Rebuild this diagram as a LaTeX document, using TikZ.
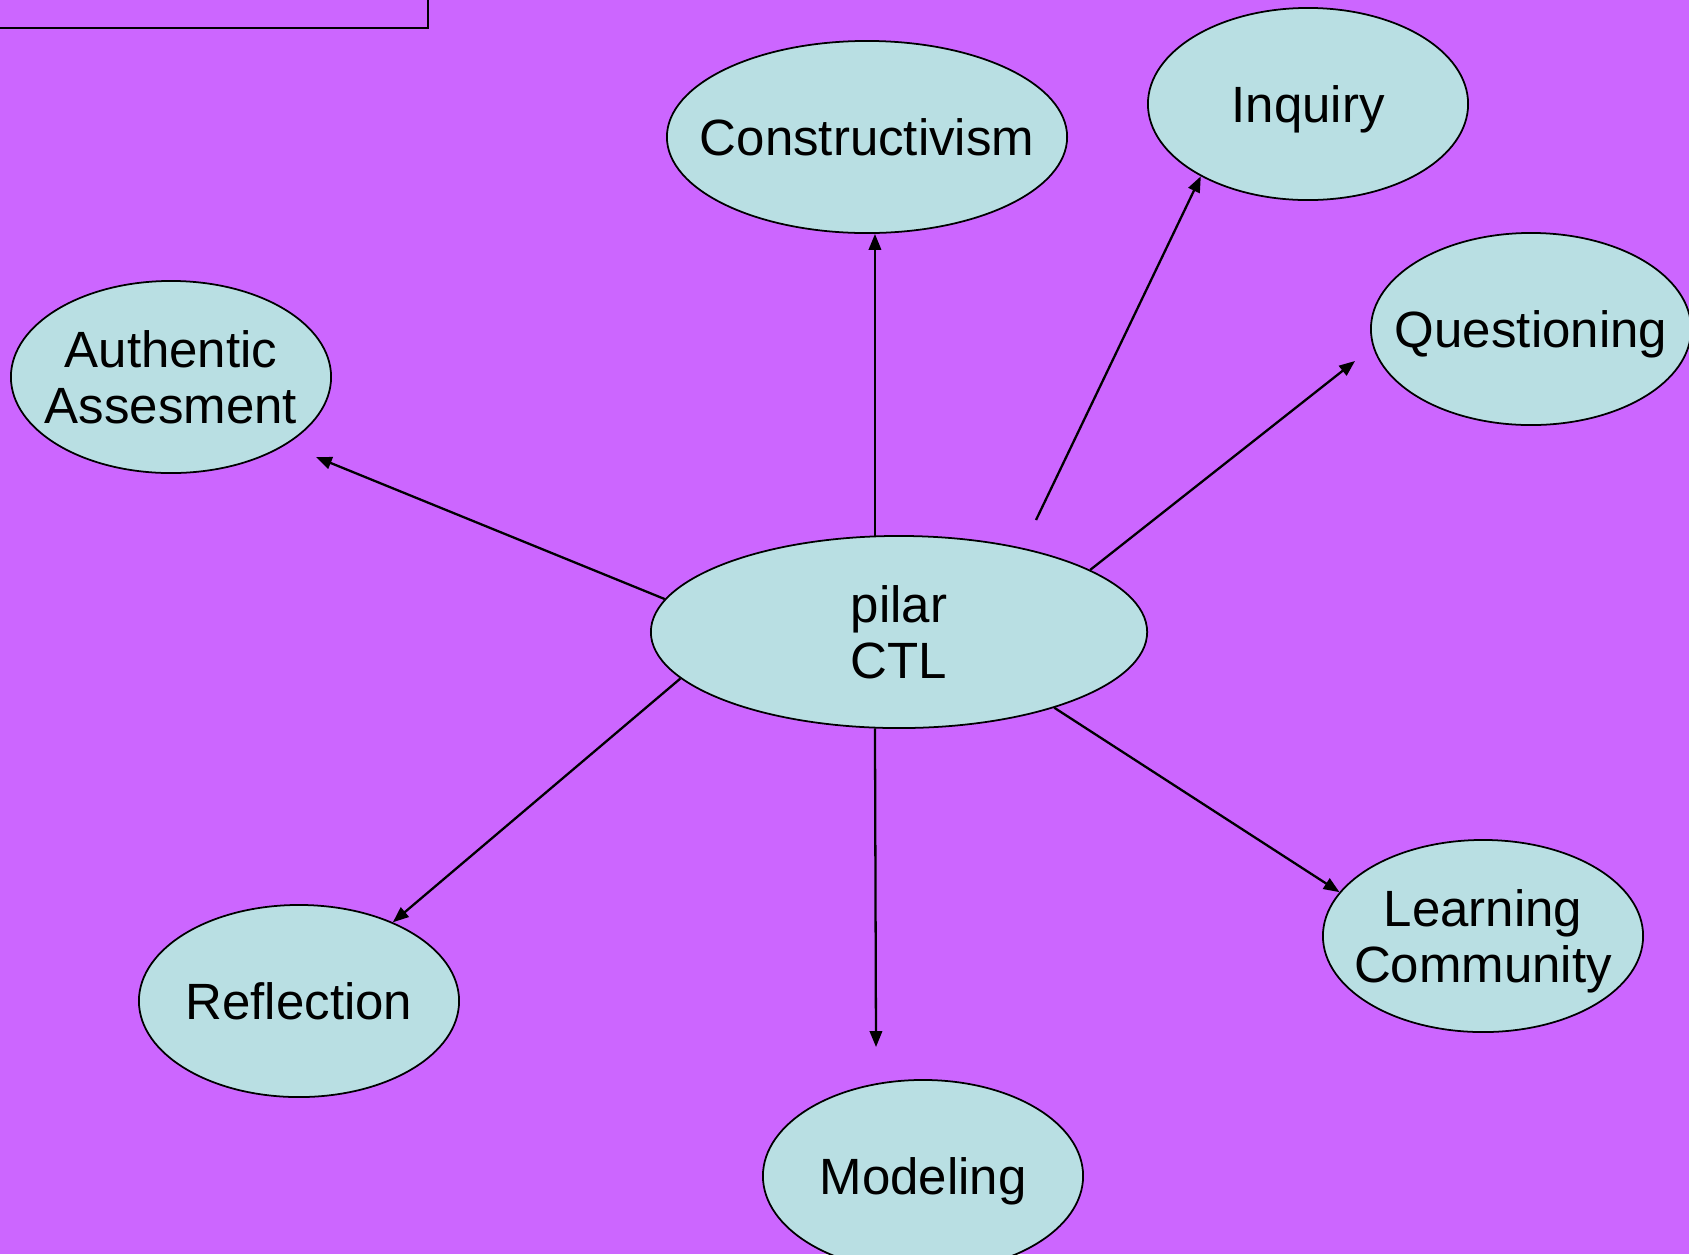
\documentclass[tikz,border=0pt]{standalone}
\usepackage{fontspec}
\setmainfont{Liberation Sans}
\usetikzlibrary{shapes.geometric,arrows.meta}
\definecolor{bgviolet}{RGB}{204,102,255}
\definecolor{ovalfill}{RGB}{185,223,227}
\newcommand{\ovaltext}[1]{\makebox[0pt]{\raisebox{-2pt}[\height][\depth]{\begin{tabular}{@{}c@{}}#1\end{tabular}}}}
\tikzset{
  oval/.style={ellipse, draw, line width=0.5pt, fill=ovalfill, inner sep=0, minimum width=3.2cm, minimum height=1.92cm, font=\fontsize{14.5}{16}\selectfont},
  link/.style={line width=0.65pt, -{Triangle[length=4.5pt,width=3.5pt]}}
}
\begin{document}
\begin{tikzpicture}[x=0.01cm,y=-0.01cm]
\useasboundingbox (0,0) rectangle (1689,1254);
\clip (0,0) rectangle (1689,1254);
\fill [bgviolet] (0,0) rectangle (1689,1254);
\draw [line width=0.8pt] (-10,-60) rectangle (428,28);

\node (ctl) [oval, minimum width=4.96cm] at (899,632) {\ovaltext{pilar\\CTL}};
\node (constr) [oval, minimum width=4cm] at (867,137) {\ovaltext{Constructivism}};
\node (inq) [oval] at (1308,104) {\ovaltext{Inquiry}};
\node (quest) [oval] at (1531,329) {\ovaltext{Questioning}};
\node (auth) [oval] at (171,377) {\ovaltext{Authentic\\Assesment}};
\node (refl) [oval] at (299,1001) {\ovaltext{Reflection}};
\node (model) [oval] at (923,1176) {\ovaltext{Modeling}};
\node (learn) [oval] at (1483,936) {\ovaltext{Learning\\Community}};

\coordinate (inqfrom) at (1036,520);
\coordinate (questto) at (1355,361);
\coordinate (authto) at (316,457);
\coordinate (modelto) at (876,1047);

\draw [link] (ctl.104) -- (ctl.104 |- constr.south);
\draw [link] (inqfrom) -- (inq.-146);
\draw [link] (ctl.18) -- (questto);
\draw [link] (ctl.172) -- (authto);
\draw [link] (ctl.-168) -- (refl.40);
\draw [link] (ctl.-104) -- (modelto);
\draw [link] (ctl.-26) -- (learn.163);
\end{tikzpicture}
\end{document}
